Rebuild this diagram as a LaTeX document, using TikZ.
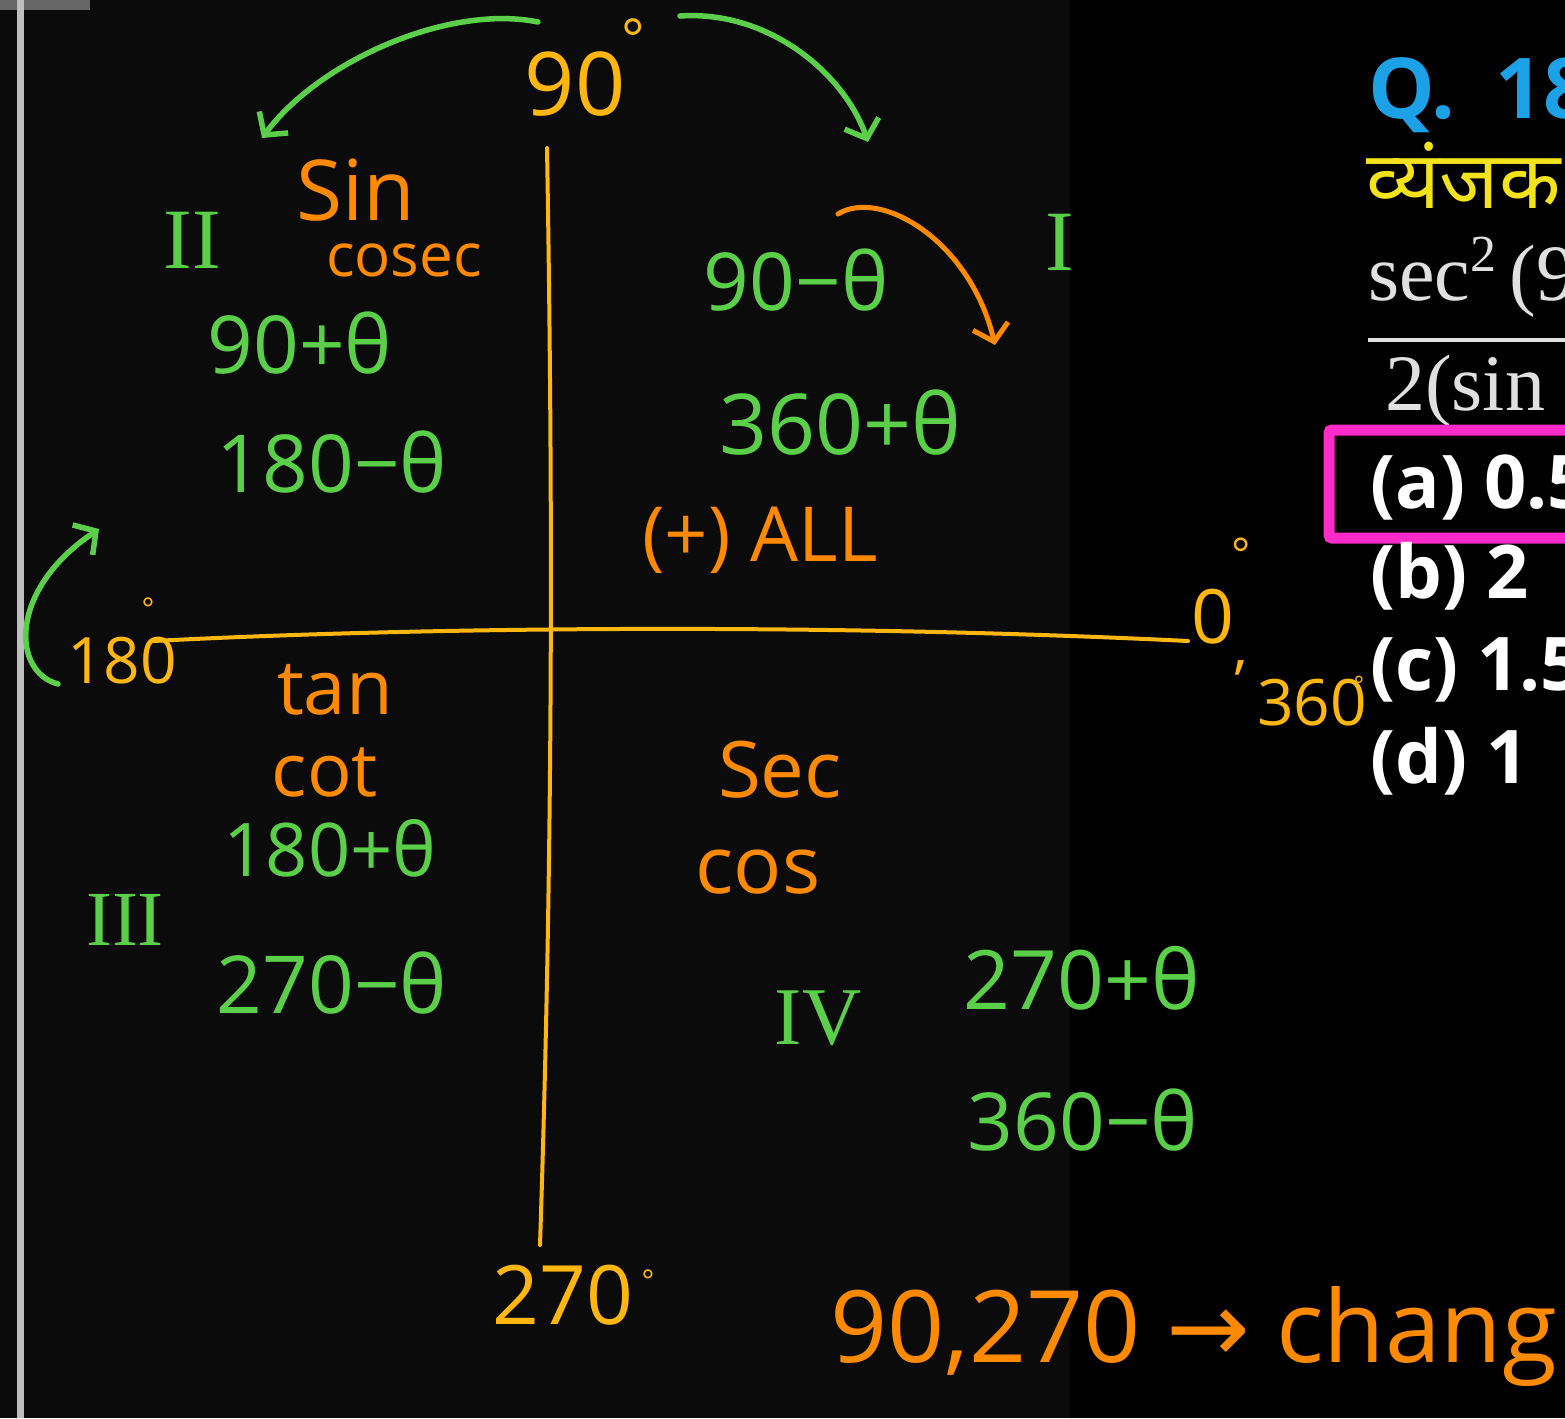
\documentclass[tikz,border=0pt]{standalone}
\usepackage{fontspec}
\setmainfont{Open Sans}
\newfontfamily\serifont{Liberation Serif}
\newfontfamily\devafont[Script=Devanagari]{Noto Sans}
\newfontfamily\dejavufont{DejaVu Sans}
\usetikzlibrary{arrows.meta}
\definecolor{hgreen}{HTML}{5CCF4A}
\definecolor{horange}{HTML}{FF8A00}
\definecolor{haxis}{HTML}{FFB70F}
\definecolor{qblue}{HTML}{1DA1E6}
\definecolor{qyellow}{HTML}{F4E21A}
\definecolor{boxpink}{HTML}{FF2BC9}
\definecolor{bgleft}{HTML}{0B0B0B}
\begin{document}
\begin{tikzpicture}[x=1pt,y=-1pt,
  sz/.style={font=\fontsize{#1}{#1}\selectfont},
  rsz/.style={font=\serifont\fontsize{#1}{#1}\selectfont},
  g/.style={text=hgreen,inner sep=0pt},
  o/.style={text=horange,inner sep=0pt},
  ax/.style={text=haxis,inner sep=0pt},
  garrow/.style={draw=hgreen,line width=5.5pt,line cap=round,-{Straight Barb[length=16pt,width=36pt]}},
  oarrow/.style={draw=horange,line width=5pt,line cap=round,-{Straight Barb[length=16pt,width=36pt]}},
  axisline/.style={draw=haxis,line width=4pt,line cap=round},
  opt/.style={text=white,inner sep=0pt,anchor=base west,font=\bfseries\fontsize{74}{74}\selectfont}]
\useasboundingbox (0,0) rectangle (1565,1418);
\clip (0,0) rectangle (1565,1418);
% background
\fill[bgleft] (0,0) rectangle (1070,1418);
\fill[black] (1070,0) rectangle (1565,1418);
\fill[black!60!white] (0,0) rectangle (90,10);
\fill[black!25!white] (17,0) rectangle (24,1418);

% axes
\coordinate (vtop) at (547,148);
\coordinate (vbot) at (540,1245);
\coordinate (hleft) at (154,641);
\coordinate (hright) at (1188,641);
\draw[axisline] (vtop) .. controls (553,500) and (553,850) .. (vbot);
\draw[axisline] (hleft) .. controls (400,628) and (800,622) .. (hright);

% axis labels
\node[ax,sz=88] (n90) at (575,84) {90};
\node[ax,sz=55,anchor=north] (d90) at (633,18) {°};
\node[ax,sz=64] (n180) at (122,661) {180};
\node[ax,sz=30,anchor=north] (d180) at (148,598) {°};
\node[ax,sz=75] (n0) at (1213,617) {0};
\node[ax,sz=45,anchor=north] (d0) at (1241,538) {°};
\node[ax,sz=60] (comma) at (1241,668) {,};
\node[ax,sz=64] (n360) at (1312,703) {360};
\node[ax,sz=24,anchor=north] (d360) at (1359,676) {°};
\node[ax,sz=82] (n270) at (563,1295) {270};
\node[ax,sz=30,anchor=north] (d270) at (648,1270) {°};

% quadrant numerals
\node[g,rsz=86] (q2) at (192,240) {II};
\node[g,rsz=86] (q1) at (1060,242) {I};
\node[g,rsz=78] (q3) at (125,920) {III};
\node[g,rsz=82] (q4) at (818,1018) {IV};

% function names
\node[o,sz=84] (sin) at (356,190) {Sin};
\node[o,sz=60] (cosec) at (404,260) {cosec};
\node[o,sz=76] (all) at (760,540) {(+) ALL};
\node[o,sz=76] (tan) at (335,690) {tan};
\node[o,sz=74] (cot) at (325,772) {cot};
\node[o,sz=78] (sec) at (780,770) {Sec};
\node[o,sz=80] (cos) at (758,872) {cos};

% angle expressions
\node[g,sz=80] (e1) at (300,343) {90+θ};
\node[g,sz=80] (e2) at (332,462) {180−θ};
\node[g,sz=80] (e3) at (796,280) {90−θ};
\node[g,sz=84] (e4) at (840,423) {360+θ};
\node[g,sz=74] (e5) at (330,848) {180+θ};
\node[g,sz=80] (e6) at (332,983) {270−θ};
\node[g,sz=82] (e7) at (1082,978) {270+θ};
\node[g,sz=80] (e8) at (1083,1120) {360−θ};

% bottom note
\node[o,sz=100,anchor=base west] (note) at (830,1362) {90,270 {\dejavufont →} chang};

% arrows
\coordinate (a1s) at (538,22);
\coordinate (a1e) at (262,138);
\coordinate (a2s) at (680,16);
\coordinate (a2e) at (868,142);
\coordinate (a3s) at (838,214);
\coordinate (a3e) at (995,345);
\coordinate (a4s) at (58,684);
\coordinate (a4e) at (99,529);
\draw[garrow] (a1s) .. controls (450,4) and (320,60) .. (a1e);
\draw[garrow] (a2s) .. controls (770,10) and (845,75) .. (a2e);
\draw[oarrow] (a3s) .. controls (880,188) and (970,240) .. (a3e);
\draw[garrow] (a4s) .. controls (12,672) and (8,590) .. (a4e);

% question panel
\node[text=qblue,inner sep=0pt,anchor=base west,font=\bfseries\fontsize{84}{84}\selectfont] (qn) at (1368,118) {Q.\hskip 40pt 18};
\node[text=qyellow,inner sep=0pt,anchor=base west,font=\devafont\bfseries\fontsize{80}{80}\selectfont] (qd) at (1366,208) {व्यंजक};
\node[text=white!88!black,inner sep=0pt,anchor=base west,font=\serifont\fontsize{80}{80}\selectfont] (num) at (1368,300) {sec\raisebox{0.36em}{\fontsize{52}{52}\selectfont 2}\,(9};
\coordinate (fr1) at (1368,340);
\coordinate (fr2) at (1580,340);
\draw[white!88!black,line width=4pt] (fr1) -- (fr2);
\node[text=white!88!black,inner sep=0pt,anchor=base west,font=\serifont\fontsize{80}{80}\selectfont] (den) at (1385,410) {2(sin};
\coordinate (b1) at (1329,430);
\coordinate (b2) at (1610,538);
\draw[boxpink,line width=11pt,rounded corners=3pt] (b1) rectangle (b2);
\node[opt] (oa) at (1370,508) {(a) 0.5};
\node[opt] (ob) at (1370,598) {(b) 2};
\node[opt] (oc) at (1370,690) {(c) 1.5};
\node[opt] (od) at (1370,783) {(d) 1};
\end{tikzpicture}
\end{document}
